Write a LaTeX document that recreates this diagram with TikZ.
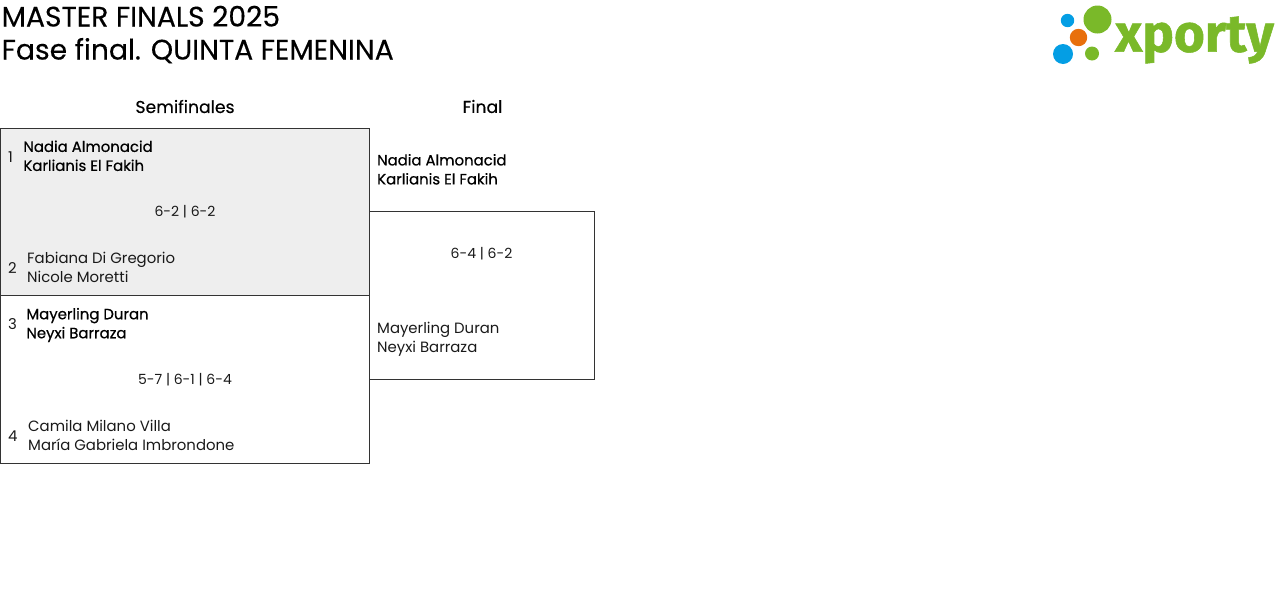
\documentclass[tikz,border=0pt]{standalone}
\usepackage{fontspec}
\setmainfont{Poppins}
\newfontfamily\logofont{Fira Sans}[BoldFont={Fira Sans Bold}]
\definecolor{xgreen}{HTML}{7AB929}
\definecolor{xblue}{HTML}{049EE4}
\definecolor{xorange}{HTML}{E8700C}
\definecolor{linec}{HTML}{333333}
\definecolor{shade}{HTML}{EEEEEE}
\newcommand{\fakebold}{\addfontfeatures{FakeBold=0.6}}
\newcommand{\fakemed}{\addfontfeatures{FakeBold=0.3}}
\tikzset{
 x=1pt,y=-1pt,
 box/.style={draw=linec,line width=0.8pt,outer sep=0pt,inner sep=0pt,anchor=north west},
 lab/.style={anchor=west,inner sep=0pt,font=\fontsize{14.9}{19}\selectfont,align=left,text=black!90},
 win/.style={lab,text=black,font=\fontsize{14.9}{19}\selectfont\fakebold},
 num/.style={anchor=west,inner sep=0pt,font=\fontsize{14.9}{15}\selectfont,text=black!90},
 score/.style={anchor=center,inner sep=0pt,font=\fontsize{14}{15}\selectfont,text=black!90},
 head/.style={anchor=center,inner sep=0pt,font=\fontsize{17.2}{18}\selectfont\fakemed,text=black},
 title/.style={anchor=west,inner sep=0pt,font=\fontsize{28.2}{33}\selectfont\fakemed,align=left,text=black},
}
\begin{document}
\begin{tikzpicture}
\useasboundingbox (0,0) rectangle (1280,595);
\node[title] (t) at (1.5,34.5) {MASTER FINALS 2025\\Fase final. QUINTA FEMENINA};
\node[head] (h1) at (185,106.5) {Semifinales};
\node[head] (h2) at (482.5,106.5) {Final};
\node[box,fill=shade,minimum width=369pt,minimum height=167pt] (m1) at (0.5,128.5) {};
\node[box,minimum width=369pt,minimum height=168pt] (m2) at (0.5,295.5) {};
\node[box,minimum width=225pt,minimum height=168pt] (m3) at (369.5,211.5) {};
\node[num] (n1) at (8,157) {1};
\node[num] (n2) at (8,268) {2};
\node[num] (n3) at (8,324) {3};
\node[num] (n4) at (8,436) {4};
\node[win] (p1) at (23.2,155.8) {Nadia Almonacid\\Karlianis El Fakih};
\node[lab] (p2) at (27,267.5) {Fabiana Di Gregorio\\Nicole Moretti};
\node[win] (p3) at (26.2,325) {Mayerling Duran\\Neyxi Barraza};
\node[lab] (p4) at (28,435.5) {Camila Milano Villa\\María Gabriela Imbrondone};
\node[score] (s1) at (185,212) {6-2 | 6-2};
\node[score] (s2) at (185,380) {5-7 | 6-1 | 6-4};
\node[win] (f1) at (377,169.3) {Nadia Almonacid\\Karlianis El Fakih};
\node[score] (s3) at (481.5,254) {6-4 | 6-2};
\node[lab] (f2) at (377,339) {Mayerling Duran\\Neyxi Barraza};
\fill[xgreen] (1097.5,19.5) circle (14);
\fill[xblue] (1067.5,20.5) circle (6.7);
\fill[xorange] (1078.5,37.5) circle (8.7);
\fill[xblue] (1063,54) circle (10);
\fill[xgreen] (1092,53.5) circle (7);
\node[anchor=center,inner sep=0pt,text=xgreen,font=\logofont\bfseries\fontsize{53}{55}\selectfont\addfontfeatures{FakeBold=1}] (logo) at (1194.5,40) {xporty};
\end{tikzpicture}
\end{document}
